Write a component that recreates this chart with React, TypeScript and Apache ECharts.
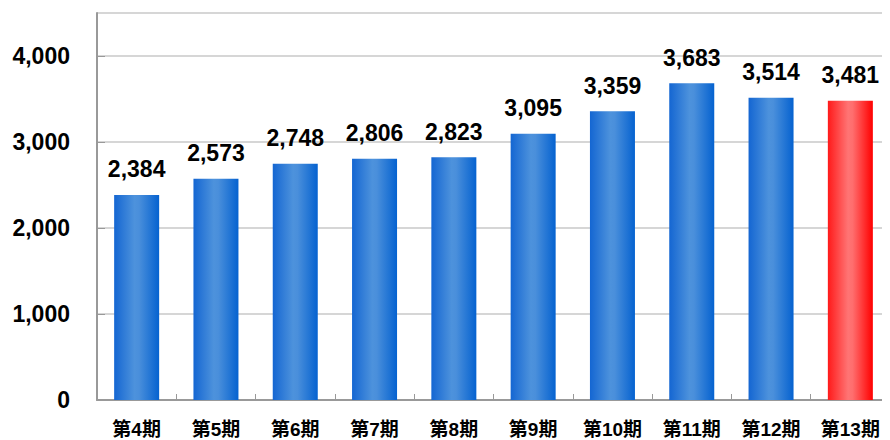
import React, { useEffect, useRef } from "react";
import * as echarts from "echarts";

const categories = ["第4期", "第5期", "第6期", "第7期", "第8期", "第9期", "第10期", "第11期", "第12期", "第13期"];
const values = [2384, 2573, 2748, 2806, 2823, 3095, 3359, 3683, 3514, 3481];
const highlightIndex = 9;

const FONT = '"Liberation Sans", Arial, "Noto Sans CJK JP", sans-serif';

export default function App() {
  const ref = useRef<HTMLDivElement>(null);
  useEffect(() => {
    if (!ref.current) return;
    const chart = echarts.init(ref.current, null, { renderer: "svg" });
    const blue = new echarts.graphic.LinearGradient(0, 0, 1, 0, [
      { offset: 0, color: "#1466d2" },
      { offset: 0.45, color: "#4d92dc" },
      { offset: 0.55, color: "#4a8fdb" },
      { offset: 1, color: "#0562d0" },
    ]);
    const red = new echarts.graphic.LinearGradient(0, 0, 1, 0, [
      { offset: 0, color: "#ff1a1a" },
      { offset: 0.45, color: "#ff7474" },
      { offset: 0.55, color: "#ff6e6e" },
      { offset: 1, color: "#ff0000" },
    ]);
    chart.setOption({
      animation: false,
      grid: { left: 97, top: 13, width: 795, height: 387, containLabel: false },
      xAxis: {
        type: "category",
        data: categories,
        axisLine: { lineStyle: { color: "#999999", width: 2 } },
        axisTick: { show: true, inside: true, length: 6, lineStyle: { color: "#999999" } },
        axisLabel: { color: "#000", fontSize: 19, fontWeight: "bold", fontFamily: FONT, margin: 20 },
      },
      yAxis: {
        type: "value",
        min: 0,
        max: 4500,
        interval: 1000,
        axisLine: { show: true, lineStyle: { color: "#999999", width: 2 } },
        axisTick: { show: true, inside: true, length: 8, lineStyle: { color: "#999999" } },
        splitLine: { lineStyle: { color: "#c8c8c8", width: 1.5 } },
        axisLabel: {
          color: "#000",
          fontSize: 23,
          fontWeight: "bold",
          fontFamily: FONT,
          margin: 27,
          showMaxLabel: false,
          formatter: (v: number) => (v > 4000 ? "" : v.toLocaleString("en-US")),
        },
      },
      series: [
        {
          type: "bar",
          barWidth: 45,
          data: values.map((v, i) => ({
            value: v,
            itemStyle: { color: i === highlightIndex ? red : blue },
          })),
          label: {
            show: true,
            position: "top",
            distance: 14,
            color: "#000",
            fontSize: 23,
            fontWeight: "bold",
            fontFamily: FONT,
            formatter: (p: any) => Number(p.value).toLocaleString("en-US"),
          },
        },
      ],
    });
    return () => chart.dispose();
  }, []);
  return <div ref={ref} style={{ width: 890, height: 440, marginLeft: -8, marginTop: -8 }} />;
}
